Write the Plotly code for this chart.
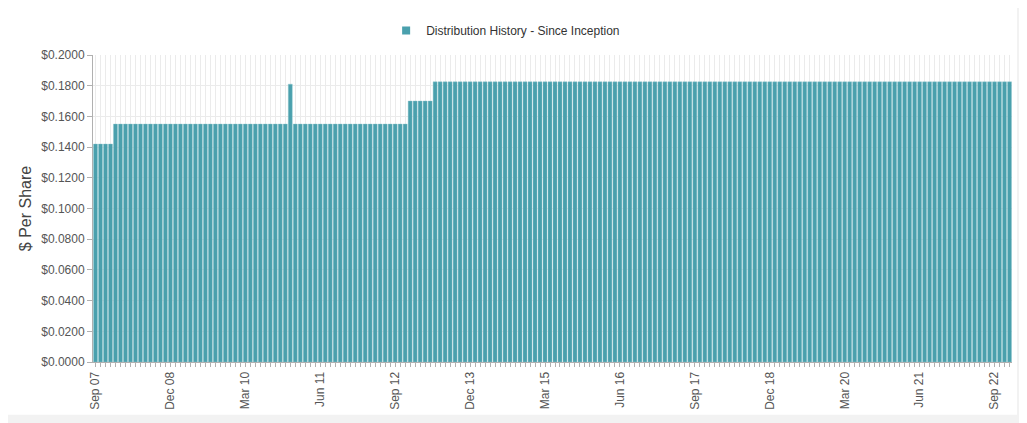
import pandas as pd
import plotly.graph_objects as go

# monthly distribution, Sep 2007 .. Dec 2022
months = pd.date_range("2007-09-01", "2022-12-01", freq="MS")
month_labels = [d.strftime("%b %y") for d in months]

dist_2007 = [0.142, 0.142, 0.142, 0.142]
dist_2008 = [0.155] * 12
dist_2009 = [0.155] * 12
dist_2010 = [0.155, 0.155, 0.155, 0.155, 0.155, 0.155, 0.155, 0.155, 0.155, 0.155, 0.155, 0.181]
dist_2011 = [0.155] * 12
dist_2012 = [0.155, 0.155, 0.155, 0.155, 0.155, 0.155, 0.155, 0.155, 0.155, 0.155, 0.155, 0.170]
dist_2013 = [0.170, 0.170, 0.170, 0.170, 0.1825, 0.1825, 0.1825, 0.1825, 0.1825, 0.1825, 0.1825, 0.1825]
dist_2014 = [0.1825] * 12
dist_2015 = [0.1825] * 12
dist_2016 = [0.1825] * 12
dist_2017 = [0.1825] * 12
dist_2018 = [0.1825] * 12
dist_2019 = [0.1825] * 12
dist_2020 = [0.1825] * 12
dist_2021 = [0.1825] * 12
dist_2022 = [0.1825] * 12

per_share = (dist_2007 + dist_2008 + dist_2009 + dist_2010 + dist_2011 + dist_2012
             + dist_2013 + dist_2014 + dist_2015 + dist_2016 + dist_2017 + dist_2018
             + dist_2019 + dist_2020 + dist_2021 + dist_2022)

label_every = 15
series_name = "Distribution History - Since Inception"

BAR = "rgb(74,160,173)"
GRID = "#ebebeb"
AXIS = "#b0b0b0"
TXT = "#555555"

idx = list(range(len(per_share)))
tick_text = [lab if i % label_every == 0 else "" for i, lab in enumerate(month_labels)]

fig = go.Figure()
fig.add_trace(
    go.Bar(
        x=idx,
        y=per_share,
        name=series_name,
        marker={"color": BAR, "line": {"color": "rgb(140,196,204)", "width": 0.4}},
        showlegend=False,
    )
)
# small square legend symbol (bar legend swatch is too big)
fig.add_trace(
    go.Scatter(
        x=[None],
        y=[None],
        mode="markers",
        name=series_name,
        marker={"symbol": "square", "size": 8, "color": BAR},
        showlegend=True,
    )
)

fig.update_layout(
    width=1019,
    height=415,
    paper_bgcolor="#f2f2f2",
    plot_bgcolor="white",
    margin={"l": 85, "r": 15, "t": 47, "b": 61, "autoexpand": False},
    bargap=0.2,
    font={"family": "Liberation Sans, Arial, sans-serif", "color": TXT, "size": 12},
    legend={
        "orientation": "h",
        "x": 0.449,
        "xanchor": "center",
        "y": 1.08,
        "yanchor": "middle",
        "font": {"size": 12, "color": "#333333"},
        "bgcolor": "rgba(0,0,0,0)",
    },
    shapes=[
        # white card behind the chart
        {
            "type": "rect",
            "xref": "paper",
            "yref": "paper",
            "x0": -0.0925,
            "x1": 1.0054,
            "y0": -0.172,
            "y1": 1.153,
            "fillcolor": "white",
            "line": {"width": 0},
            "layer": "below",
        }
    ],
)

fig.update_xaxes(
    range=[-0.5, len(per_share) - 0.5],
    tickmode="array",
    tickvals=idx,
    ticktext=tick_text,
    tickangle=-90,
    ticks="outside",
    ticklen=4,
    tickcolor=AXIS,
    showgrid=True,
    gridcolor=GRID,
    showline=True,
    linecolor=AXIS,
    zeroline=False,
    tickfont={"size": 12, "color": TXT},
)

fig.update_yaxes(
    range=[0, 0.2],
    dtick=0.02,
    tickformat="$.4f",
    ticks="outside",
    ticklen=5,
    tickcolor=AXIS,
    showgrid=True,
    gridcolor=GRID,
    showline=True,
    linecolor=AXIS,
    zeroline=False,
    title={"text": "$ Per Share", "font": {"size": 16, "color": "#444444"}, "standoff": 5},
    tickfont={"size": 12, "color": TXT},
)

fig.write_html("out.html")
